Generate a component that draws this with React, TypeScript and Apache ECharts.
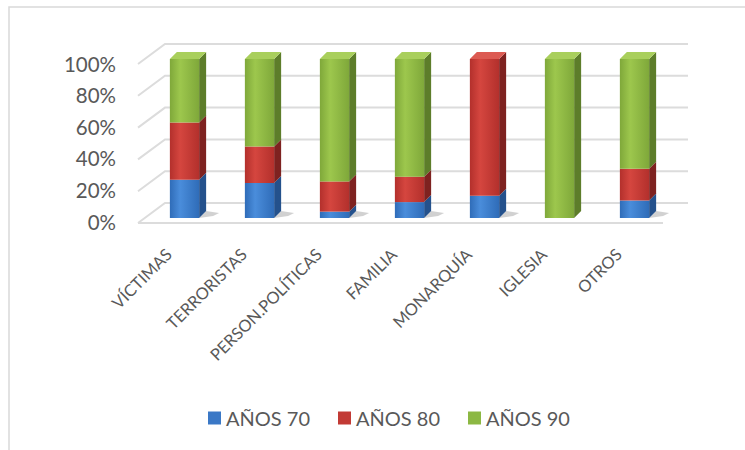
import React, { useEffect, useRef } from "react";
import * as echarts from "echarts";

const categories = ["VÍCTIMAS", "TERRORISTAS", "PERSON.POLÍTICAS", "FAMILIA", "MONARQUÍA", "IGLESIA", "OTROS"];
const seriesNames = ["AÑOS 70", "AÑOS 80", "AÑOS 90"];
const anos70 = [24, 22, 4, 10, 14, 0, 11];
const anos80 = [36, 23, 19, 16, 86, 0, 20];
const anos90 = [40, 55, 77, 74, 0, 100, 69];
const yTicks = [0, 20, 40, 60, 80, 100];

const palette = [
  { front: ["#4a8ddb", "#2f6cb8"], side: "#24518c", top: "#5b9ae2", icon: "#3a78c6" },
  { front: ["#d5463f", "#b3302c"], side: "#7e2220", top: "#dc5a52", icon: "#c23a35" },
  { front: ["#9dc74d", "#7fa83a"], side: "#5d7d2a", top: "#a9cf5c", icon: "#8cb843" },
];

export default function App() {
  const ref = useRef<HTMLDivElement>(null);
  useEffect(() => {
    const chart = echarts.init(ref.current!, null, { renderer: "svg" });
    const all = [anos70, anos80, anos90];
    const topLayer = categories.map((_, i) => {
      let t = -1;
      all.forEach((arr, s) => { if (arr[i] > 0) t = s; });
      return t;
    });

    const barSeries = all.map((arr, s) => ({
      type: "custom",
      name: seriesNames[s],
      z: 5,
      data: arr.map((v, i) => {
        let base = 0;
        for (let k = 0; k < s; k++) base += all[k][i];
        return [i, base, base + v, v];
      }),
      encode: { x: 0, y: 2 },
      renderItem: (params: any, api: any) => {
        const i = api.value(0);
        const b = api.value(1);
        const t = api.value(2);
        const v = api.value(3);
        if (!v) return null;
        const p0 = api.coord([i, b]);
        const p1 = api.coord([i, t]);
        const band = api.size([1, 0])[0];
        const w = band * 0.39;
        const dx = 7, dy = -7;
        const xl = p0[0] - w / 2, xr = p0[0] + w / 2;
        const c = palette[s];
        const children: any[] = [
          {
            type: "polygon",
            shape: { points: [[xr, p0[1]], [xr + dx, p0[1] + dy], [xr + dx, p1[1] + dy], [xr, p1[1]]] },
            style: { fill: c.side },
          },
          {
            type: "rect",
            shape: { x: xl, y: p1[1], width: w, height: p0[1] - p1[1] },
            style: {
              fill: new echarts.graphic.LinearGradient(0, 0, 1, 0, [
                { offset: 0, color: c.front[1] },
                { offset: 0.35, color: c.front[0] },
                { offset: 1, color: c.front[1] },
              ]),
            },
          },
        ];
        if (s === 0) {
          children.unshift({
            type: "polygon",
            shape: { points: [[xr, p0[1]], [xr + 14, p0[1] - 2], [xr + 20, p0[1] - 5], [xr + dx, p0[1] + dy]] },
            style: { fill: "rgba(0,0,0,0.18)" },
          });
        }
        if (topLayer[i] === s) {
          children.push({
            type: "polygon",
            shape: { points: [[xl, p1[1]], [xl + dx, p1[1] + dy], [xr + dx, p1[1] + dy], [xr, p1[1]]] },
            style: { fill: c.top },
          });
        }
        return { type: "group", children };
      },
    }));

    const gridSeries = {
      type: "custom",
      name: "grid",
      silent: true,
      z: 1,
      data: yTicks.map((v) => [0, v]),
      encode: { x: 0, y: 1 },
      renderItem: (params: any, api: any) => {
        const cs = params.coordSys;
        const v = api.value(1);
        const y = api.coord([0, v])[1];
        const fy = y + 5, by = y - 15;
        const fx = cs.x - 9, bx = cs.x + 18, bxr = cs.x + cs.width + 16;
        const st = { stroke: "#dcdcdc", lineWidth: 2, fill: "none" };
        const children: any[] = [
          { type: "polyline", shape: { points: [[fx, fy], [bx, by], [bxr, by]] }, style: st },
        ];
        if (v === 0) {
          children.push({
            type: "line",
            shape: { x1: fx, y1: fy, x2: cs.x + cs.width - 9, y2: fy },
            style: { stroke: "#dcdcdc", lineWidth: 2 },
          });
        }
        return { type: "group", children };
      },
    };

    chart.setOption({
      animation: false,
      backgroundColor: "#ffffff",
      textStyle: { fontFamily: "Lato" },
      graphic: [
        { type: "rect", shape: { x: 9, y: 7, width: 800, height: 500 }, style: { fill: "none", stroke: "#d9d9d9", lineWidth: 1.5 }, z: -1 },
      ],
      legend: {
        data: seriesNames.map((n, s) => ({ name: n, itemStyle: { color: palette[s].icon } })),
        bottom: 17,
        left: 203,
        icon: "rect",
        itemWidth: 13,
        itemHeight: 13,
        itemGap: 28,
        textStyle: { fontSize: 20, color: "#595959", fontFamily: "Lato" },
      },
      grid: [
        { left: 147, right: 73, top: 59, bottom: 232 },
        { left: 147, right: 73, top: 63.5, bottom: 228.5 },
      ],
      xAxis: [
        {
          type: "category",
          gridIndex: 0,
          data: categories,
          axisLine: { show: false },
          axisTick: { show: false },
          axisLabel: { rotate: 45, margin: 18, fontSize: 16.5, color: "#595959", fontFamily: "Lato", interval: 0, padding: [0, 22, 0, 0] },
        },
        { type: "category", gridIndex: 1, data: categories, show: false },
      ],
      yAxis: [
        {
          type: "value",
          gridIndex: 0,
          min: 0,
          max: 100,
          interval: 20,
          splitLine: { show: false },
          axisLine: { show: false },
          axisTick: { show: false },
          axisLabel: { show: false },
        },
        {
          type: "value",
          gridIndex: 1,
          min: 0,
          max: 100,
          interval: 20,
          splitLine: { show: false },
          axisLine: { show: false },
          axisTick: { show: false },
          axisLabel: { formatter: "{value}%", margin: 31, fontSize: 20.5, color: "#595959", fontFamily: "Lato" },
        },
      ],
      series: [gridSeries, ...barSeries],
    });
    return () => chart.dispose();
  }, []);
  return <div ref={ref} style={{ position: "absolute", left: 0, top: 0, width: 745, height: 450 }} />;
}
